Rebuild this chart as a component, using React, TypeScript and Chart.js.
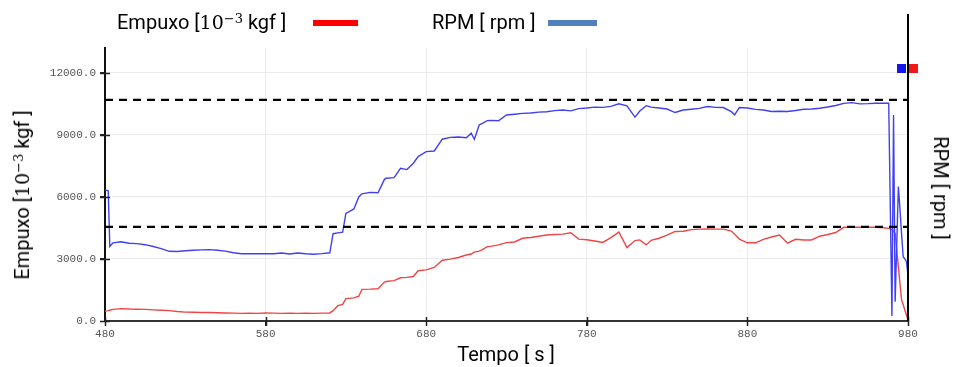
import React, { useEffect, useRef } from "react";
import { Chart, registerables } from "chart.js";
Chart.register(...registerables);

// Time axis (seconds)
const timeSeconds = [
  480, 482, 483, 485, 490, 495, 500, 505, 510, 515,
  520, 525, 530, 535, 540, 545, 550, 555, 560, 565,
  570, 575, 580, 585, 590, 595, 600, 605, 610, 615,
  620, 622, 625, 628, 630, 635, 638, 640, 645, 650,
  654, 655, 660, 664, 668, 672, 675, 680, 685, 690,
  695, 700, 705, 708, 710, 713, 715, 718, 720, 725,
  730, 735, 740, 745, 750, 755, 760, 765, 770, 775,
  780, 785, 790, 795, 800, 805, 810, 813, 817, 820,
  825, 830, 835, 840, 845, 850, 855, 860, 865, 870,
  872, 875, 880, 885, 890, 895, 900, 905, 910, 915,
  920, 925, 930, 935, 940, 945, 950, 955, 960, 965,
  968, 970, 971, 972, 974, 975, 976, 977, 978, 979,
  980,
];

// RPM [rpm]
const rpmValues = [
  6340, 6300, 3600, 3780, 3830, 3760, 3740, 3690, 3600, 3500,
  3370, 3360, 3400, 3420, 3440, 3450, 3420, 3380, 3300, 3250,
  3260, 3250, 3260, 3250, 3290, 3240, 3290, 3250, 3230, 3260,
  3300, 4220, 4260, 4300, 5200, 5420, 6000, 6150, 6220, 6200,
  6850, 6900, 6930, 7380, 7320, 7630, 7950, 8190, 8220, 8790,
  8880, 8900, 8860, 9080, 8790, 9480, 9560, 9690, 9700, 9680,
  9960, 10000, 10040, 10060, 10100, 10120, 10170, 10200, 10160, 10270,
  10300, 10340, 10330, 10380, 10500, 10400, 9860, 10150, 10410, 10340,
  10300, 10250, 10080, 10200, 10240, 10280, 10370, 10330, 10320, 10120,
  9970, 10320, 10300, 10230, 10200, 10130, 10140, 10130, 10180, 10240,
  10250, 10290, 10350, 10420, 10520, 10560, 10500, 10510, 10530, 10530,
  10530, 240, 9960, 930, 6500, 5400, 4200, 3110, 3000, 2880,
  2230,
];

// Empuxo [10^-3 kgf]
const empuxoValues = [
  480, 500, 520, 560, 600, 580, 570, 560, 540, 520,
  500, 460, 430, 420, 410, 410, 400, 390, 380, 370,
  380, 370, 390, 380, 370, 380, 370, 380, 370, 380,
  390, 500, 740, 800, 1080, 1120, 1200, 1530, 1540, 1560,
  1880, 1910, 1950, 2090, 2110, 2150, 2430, 2470, 2590, 2940,
  2990, 3070, 3190, 3240, 3330, 3380, 3450, 3590, 3610, 3680,
  3790, 3820, 4000, 4040, 4100, 4160, 4180, 4200, 4270, 3960,
  3930, 3870, 3800, 4030, 4300, 3550, 3890, 3920, 3680, 3900,
  4000, 4150, 4330, 4340, 4420, 4440, 4450, 4440, 4440, 4350,
  4200, 3960, 3780, 3780, 3950, 4060, 4160, 3760, 3950, 3920,
  3920, 4100, 4180, 4280, 4530, 4530, 4540, 4530, 4530, 4510,
  4480, 4420, 4320, 4240, 2620, 1800, 1020, 800, 530, 300,
  50,
];

// Dashed reference levels
const referenceLevels = [10690, 4550];
const xRange = [480, 980];
const xTickValues = [480, 580, 680, 780, 880, 980];
const yTickValues = [0, 3000, 6000, 9000, 12000];
const yMax = 13200;

const TITLE_FONT = "Roboto, 'DejaVu Sans', sans-serif";

const extrasPlugin = {
  id: "extras",
  afterDatasetsDraw(chart: any) {
    const { ctx, chartArea: a, scales } = chart;
    const line = (x1: number, y1: number, x2: number, y2: number) => {
      ctx.beginPath();
      ctx.moveTo(x1, y1);
      ctx.lineTo(x2, y2);
      ctx.stroke();
    };
    ctx.save();
    ctx.strokeStyle = "#222";
    ctx.lineWidth = 1.5;
    scales.y.ticks.forEach((t: any) => {
      const y = Math.round(scales.y.getPixelForValue(t.value)) + 0.5;
      line(a.left - 5, y, a.left + 5, y);
    });
    scales.x.ticks.forEach((t: any) => {
      const x = Math.round(scales.x.getPixelForValue(t.value)) + 0.5;
      line(x, a.bottom - 4, x, a.bottom + 5);
    });
    ctx.strokeStyle = "#000";
    ctx.lineWidth = 2;
    line(a.right, a.top - 34, a.right, a.bottom);
    ctx.fillStyle = "#1616e8";
    ctx.fillRect(a.right - 11, a.top + 16, 9, 9);
    ctx.fillStyle = "#f01818";
    ctx.fillRect(a.right + 1, a.top + 16, 9, 9);
    ctx.restore();
  },
};

export default function App() {
  const canvasRef = useRef<HTMLCanvasElement | null>(null);

  useEffect(() => {
    if (!canvasRef.current) return;
    const toPts = (vals: number[]) => timeSeconds.map((t, i) => ({ x: t, y: vals[i] }));
    const dashed = (v: number) => ({
      data: [
        { x: xRange[0], y: v },
        { x: xRange[1], y: v },
      ],
      borderColor: "#000",
      borderWidth: 2.2,
      borderDash: [8, 6],
      pointRadius: 0,
      order: 0,
    });
    const chart = new Chart(canvasRef.current, {
      type: "line",
      data: {
        datasets: [
          {
            label: "Empuxo",
            data: toPts(empuxoValues),
            borderColor: "#ef4545",
            borderWidth: 1.4,
            pointRadius: 0,
            tension: 0,
            order: 2,
          },
          {
            label: "RPM",
            data: toPts(rpmValues),
            borderColor: "#4040f0",
            borderWidth: 1.4,
            pointRadius: 0,
            tension: 0,
            order: 1,
          },
          dashed(referenceLevels[0]),
          dashed(referenceLevels[1]),
        ],
      },
      options: {
        responsive: false,
        animation: false,
        events: [],
        layout: { padding: { top: 48, right: 46, bottom: 26, left: 0 } },
        plugins: { legend: { display: false }, tooltip: { enabled: false } },
        scales: {
          x: {
            type: "linear",
            min: xRange[0],
            max: xRange[1],
            afterBuildTicks: (s: any) => {
              s.ticks = xTickValues.map((v) => ({ value: v }));
            },
            afterFit: (s: any) => {
              s.height = 20;
            },
            ticks: {
              callback: (v: any) => String(v),
              font: { family: "'Liberation Mono', monospace", size: 11 },
              color: "#555",
              padding: 1,
              maxRotation: 0,
            },
            grid: { color: "#ececec", tickColor: "#222", tickLength: 5, lineWidth: 1 },
            border: { color: "#333", width: 2 },
          },
          y: {
            min: 0,
            max: yMax,
            afterBuildTicks: (s: any) => {
              s.ticks = yTickValues.map((v) => ({ value: v }));
            },
            afterFit: (s: any) => {
              s.width = 105;
            },
            ticks: {
              callback: (v: any) => Number(v).toFixed(1),
              font: { family: "'Liberation Mono', monospace", size: 11 },
              color: "#555",
              padding: 4,
            },
            grid: { color: "#ececec", tickColor: "#222", tickLength: 5, lineWidth: 1 },
            border: { color: "#111", width: 2 },
          },
        },
      },
      plugins: [extrasPlugin],
    });
    return () => chart.destroy();
  }, []);

  const titleStyle: React.CSSProperties = {
    position: "absolute",
    fontFamily: TITLE_FONT,
    fontSize: 20,
    fontWeight: 400,
    color: "#000",
    whiteSpace: "nowrap",
    lineHeight: 1,
  };
  const mathStyle: React.CSSProperties = { fontFamily: "'DejaVu Serif', serif", fontSize: 19 };
  const supStyle: React.CSSProperties = { fontSize: 13, verticalAlign: "6px", lineHeight: 0 };

  return (
    <div style={{ position: "absolute", left: 0, top: 0, width: 954, height: 367, background: "#fff" }}>
      <canvas ref={canvasRef} width={954} height={367} style={{ position: "absolute", left: 0, top: 0 }} />
      <div style={{ ...titleStyle, left: 117, top: 12 }}>
        Empuxo [<span style={mathStyle}>10<span style={supStyle}>−3</span></span> kgf ]
      </div>
      <div style={{ position: "absolute", left: 313, top: 20, width: 45, height: 6, background: "#ff0000" }} />
      <div style={{ ...titleStyle, left: 432, top: 12 }}>RPM [ rpm ]</div>
      <div style={{ position: "absolute", left: 548, top: 20, width: 49, height: 6, background: "#4f81bd" }} />
      <div
        style={{ ...titleStyle, left: 22, top: 195, transform: "translate(-50%, -50%) rotate(-90deg)" }}
      >
        Empuxo [<span style={mathStyle}>10<span style={supStyle}>−3</span></span> kgf ]
      </div>
      <div style={{ ...titleStyle, left: 941, top: 188, transform: "translate(-50%, -50%) rotate(90deg)" }}>
        RPM [ rpm ]
      </div>
      <div style={{ ...titleStyle, left: 506, top: 354, transform: "translate(-50%, -50%)" }}>Tempo [ s ]</div>
    </div>
  );
}
